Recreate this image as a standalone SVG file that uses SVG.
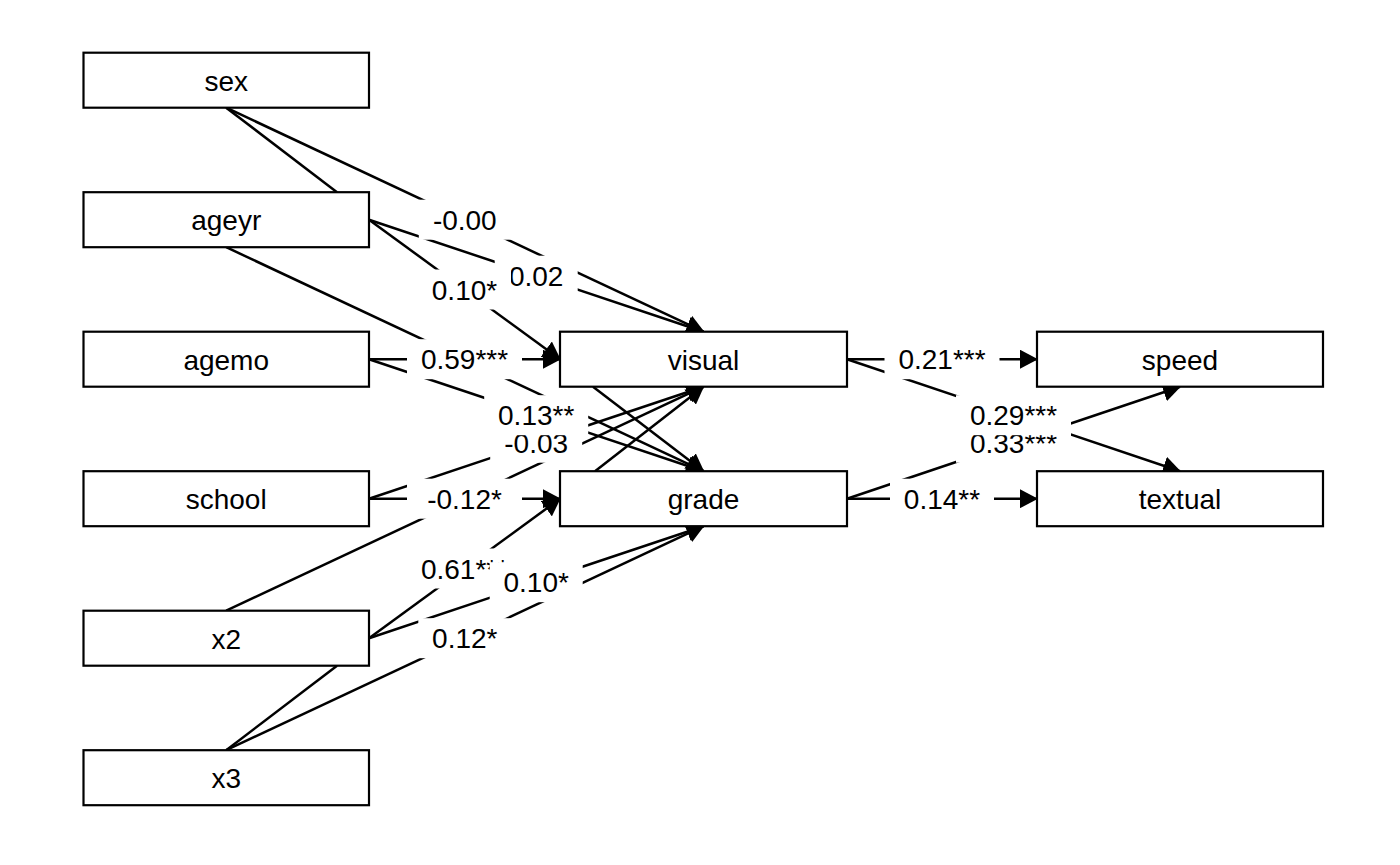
<svg xmlns="http://www.w3.org/2000/svg" width="1400" height="865" viewBox="0 0 1400 865">
<defs>
<marker id="ah" viewBox="0 0 18 19" refX="17" refY="9.5" markerWidth="18" markerHeight="19" markerUnits="userSpaceOnUse" orient="auto">
<path d="M0,0 L18,9.5 L0,19 Z" fill="#000"/>
</marker>
<style>
.box{fill:#fff;stroke:#000;stroke-width:2.2}
.nt{font-family:"Liberation Sans",Arial,sans-serif;font-size:28px;text-anchor:middle;fill:#000}
.e{stroke:#000;stroke-width:2.5;fill:none}
.a{marker-end:url(#ah)}
.lb{fill:#fff;stroke:none}
.lt{font-family:"Liberation Sans",Arial,sans-serif;font-size:28px;text-anchor:middle;fill:#000}
</style>
</defs>
<rect width="1400" height="865" fill="#fff"/>
<g id="connectors">
<line class="e a" x1="226.2" y1="107.7" x2="703.5" y2="331.7"/>
<line class="e" x1="226.2" y1="107.7" x2="337" y2="192.2"/>
<line class="e a" x1="369" y1="219.7" x2="703.5" y2="331.7"/>
<line class="e a" x1="369" y1="219.7" x2="560" y2="359.2"/>
<line class="e a" x1="226.2" y1="247.2" x2="703.5" y2="471.2"/>
<line class="e a" x1="369" y1="359.2" x2="560" y2="359.2"/>
<line class="e a" x1="369" y1="359.2" x2="703.5" y2="471.2"/>
<line class="e a" x1="369" y1="498.7" x2="703.5" y2="386.7"/>
<line class="e a" x1="369" y1="498.7" x2="560" y2="498.7"/>
<line class="e a" x1="226.2" y1="610.7" x2="703.5" y2="386.7"/>
<line class="e a" x1="369" y1="638.2" x2="560" y2="498.7"/>
<line class="e a" x1="369" y1="638.2" x2="703.5" y2="526.2"/>
<line class="e a" x1="226.2" y1="750.2" x2="703.5" y2="526.2"/>
<line class="e" x1="337" y1="665.7" x2="226.2" y2="750.2"/>
<line class="e a" x1="593" y1="386.7" x2="703.5" y2="471.2"/>
<line class="e a" x1="595" y1="471.2" x2="703.5" y2="386.7"/>
<line class="e a" x1="847" y1="359.2" x2="1037" y2="359.2"/>
<line class="e a" x1="847" y1="359.2" x2="1180" y2="471.2"/>
<line class="e a" x1="847" y1="498.7" x2="1180" y2="386.7"/>
<line class="e a" x1="847" y1="498.7" x2="1037" y2="498.7"/>
</g>
<g id="labels">
<rect class="lb" x="418.8" y="199.7" width="92" height="40"/><text class="lt" x="464.8" y="229.7">-0.00</text>
<rect class="lb" x="494.7" y="255.7" width="83" height="40"/><text class="lt" x="536.2" y="285.7">0.02</text>
<rect class="lb" x="418" y="269.5" width="93" height="40"/><text class="lt" x="464.5" y="299.5">0.10*</text>
<rect class="lb" x="407" y="339.2" width="115" height="40"/><text class="lt" x="464.5" y="369.2">0.59***</text>
<rect class="lb" x="490.2" y="422.7" width="92" height="40"/><text class="lt" x="536.2" y="452.7">-0.03</text>
<rect class="lb" x="484.2" y="395.2" width="104" height="40"/><text class="lt" x="536.2" y="425.2">0.13**</text>
<rect class="lb" x="407" y="478.7" width="115" height="40"/><text class="lt" x="464.5" y="508.7">-0.12*</text>
<rect class="lb" x="407" y="548.5" width="115" height="40"/><text class="lt" x="464.5" y="578.5">0.61***</text>
<rect class="lb" x="489.7" y="562.2" width="93" height="40"/><text class="lt" x="536.2" y="592.2">0.10*</text>
<rect class="lb" x="418.3" y="618.2" width="93" height="40"/><text class="lt" x="464.8" y="648.2">0.12*</text>
<rect class="lb" x="884.5" y="339.2" width="115" height="40"/><text class="lt" x="942" y="369.2">0.21***</text>
<rect class="lb" x="956" y="422.7" width="115" height="40"/><text class="lt" x="1013.5" y="452.7">0.33***</text>
<rect class="lb" x="956" y="395.2" width="115" height="40"/><text class="lt" x="1013.5" y="425.2">0.29***</text>
<rect class="lb" x="890" y="478.7" width="104" height="40"/><text class="lt" x="942" y="508.7">0.14**</text>
</g>
<g id="sex"><rect class="box" x="83.5" y="52.7" width="285.5" height="55"/><text class="nt" x="226.2" y="90.7">sex</text></g>
<g id="ageyr"><rect class="box" x="83.5" y="192.2" width="285.5" height="55"/><text class="nt" x="226.2" y="230.2">ageyr</text></g>
<g id="agemo"><rect class="box" x="83.5" y="331.7" width="285.5" height="55"/><text class="nt" x="226.2" y="369.7">agemo</text></g>
<g id="school"><rect class="box" x="83.5" y="471.2" width="285.5" height="55"/><text class="nt" x="226.2" y="509.2">school</text></g>
<g id="x2"><rect class="box" x="83.5" y="610.7" width="285.5" height="55"/><text class="nt" x="226.2" y="648.7">x2</text></g>
<g id="x3"><rect class="box" x="83.5" y="750.2" width="285.5" height="55"/><text class="nt" x="226.2" y="788.2">x3</text></g>
<g id="visual"><rect class="box" x="560" y="331.7" width="287" height="55"/><text class="nt" x="703.5" y="369.7">visual</text></g>
<g id="grade"><rect class="box" x="560" y="471.2" width="287" height="55"/><text class="nt" x="703.5" y="509.2">grade</text></g>
<g id="speed"><rect class="box" x="1037" y="331.7" width="286" height="55"/><text class="nt" x="1180" y="369.7">speed</text></g>
<g id="textual"><rect class="box" x="1037" y="471.2" width="286" height="55"/><text class="nt" x="1180" y="509.2">textual</text></g>
</svg>
